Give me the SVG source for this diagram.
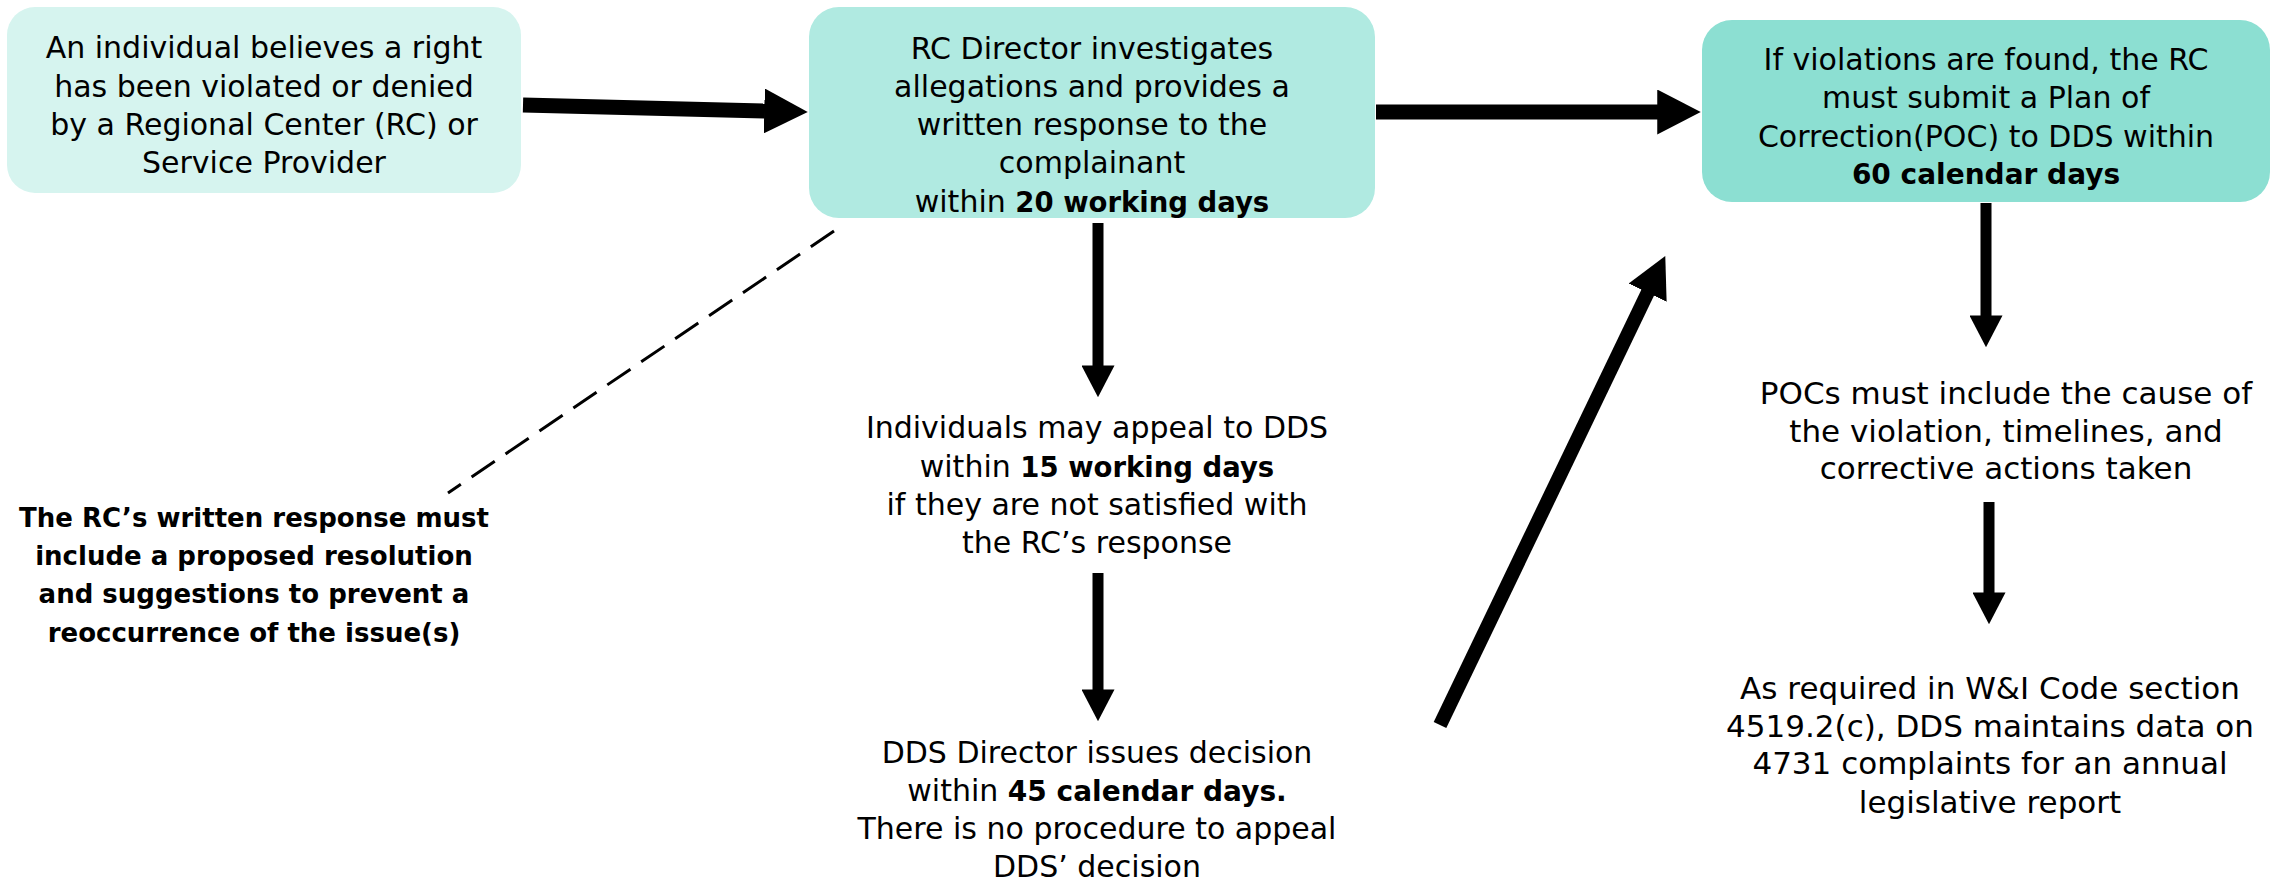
<svg xmlns="http://www.w3.org/2000/svg" width="2283" height="884" viewBox="0 0 2283 884">
<defs>
<style>
text{font-family:"DejaVu Sans","Liberation Sans",sans-serif;fill:#000;text-anchor:middle}
.t{font-size:30px}
.r{font-size:31px}
.b{font-weight:bold;font-size:27.5px}
.note{font-weight:bold;font-size:26px}
.conn{stroke:#000;fill:none;marker-end:url(#ah)}
.dash{stroke:#000;stroke-width:3;stroke-dasharray:28 13;fill:none}
</style>
<marker id="ah" viewBox="0 0 3 3" refX="0.05" refY="1.5" markerWidth="3" markerHeight="3" markerUnits="strokeWidth" orient="auto"><path d="M0,0 L2.9,1.5 L0,3 z" fill="#000"/></marker>
</defs>
<rect width="2283" height="884" fill="#fff"/>
<g id="node-start">
<rect x="7" y="7" width="514" height="186" rx="28" fill="#d6f4ef"/>
<text class="t" x="264" y="58">An individual believes a right</text>
<text class="t" x="264" y="97">has been violated or denied</text>
<text class="t" x="264" y="135">by a Regional Center (RC) or</text>
<text class="t" x="264" y="173">Service Provider</text>
</g>
<g id="node-rc-director">
<rect x="809" y="7" width="566" height="211" rx="30" fill="#b0eae1"/>
<text class="t" x="1092" y="59">RC Director investigates</text>
<text class="t" x="1092" y="97">allegations and provides a</text>
<text class="t" x="1092" y="135">written response to the</text>
<text class="t" x="1092" y="173">complainant</text>
<text class="t" x="1092" y="212">within <tspan class="b">20 working days</tspan></text>
</g>
<g id="node-poc">
<rect x="1702" y="20" width="568" height="182" rx="30" fill="#8cdfd2"/>
<text class="t" x="1986" y="70">If violations are found, the RC</text>
<text class="t" x="1986" y="108">must submit a Plan of</text>
<text class="t" x="1986" y="147">Correction(POC) to DDS within</text>
<text class="b" x="1986" y="184" style="font-size:28px">60 calendar days</text>
</g>
<g id="node-note">
<text class="note" x="254" y="527">The RC’s written response must</text>
<text class="note" x="254" y="565">include a proposed resolution</text>
<text class="note" x="254" y="603">and suggestions to prevent a</text>
<text class="note" x="254" y="642">reoccurrence of the issue(s)</text>
</g>
<g id="node-appeal">
<text class="t" x="1097" y="438">Individuals may appeal to DDS</text>
<text class="t" x="1097" y="477">within <tspan class="b">15 working days</tspan></text>
<text class="t" x="1097" y="515">if they are not satisfied with</text>
<text class="t" x="1097" y="553">the RC’s response</text>
</g>
<g id="node-dds-decision">
<text class="t" x="1097" y="763">DDS Director issues decision</text>
<text class="t" x="1097" y="801">within <tspan class="b" style="font-size:28px">45 calendar days.</tspan></text>
<text class="t" x="1097" y="839">There is no procedure to appeal</text>
<text class="t" x="1097" y="877">DDS’ decision</text>
</g>
<g id="node-poc-content">
<text class="r" x="2006" y="404">POCs must include the cause of</text>
<text class="r" x="2006" y="442">the violation, timelines, and</text>
<text class="r" x="2006" y="479">corrective actions taken</text>
</g>
<g id="node-data">
<text class="r" x="1990" y="699">As required in W&amp;I Code section</text>
<text class="r" x="1990" y="737">4519.2(c), DDS maintains data on</text>
<text class="r" x="1990" y="774">4731 complaints for an annual</text>
<text class="r" x="1990" y="813">legislative report</text>
</g>
<g id="connectors">
<line class="conn" x1="523" y1="105" x2="765" y2="111" stroke-width="15"/>
<line class="conn" x1="1376" y1="112" x2="1658" y2="112" stroke-width="15"/>
<line class="conn" x1="1098" y1="223" x2="1098" y2="366" stroke-width="11"/>
<line class="conn" x1="1098" y1="573" x2="1098" y2="690" stroke-width="11"/>
<line class="conn" x1="1440" y1="725" x2="1648" y2="292" stroke-width="14"/>
<line class="conn" x1="1986" y1="203" x2="1986" y2="316" stroke-width="11"/>
<line class="conn" x1="1989" y1="502" x2="1989" y2="593" stroke-width="11"/>
<line class="dash" x1="834" y1="231" x2="448" y2="493"/>
</g>
</svg>
